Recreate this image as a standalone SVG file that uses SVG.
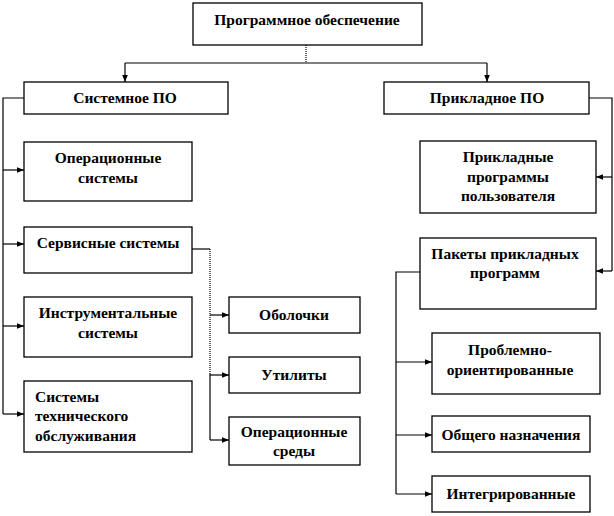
<svg xmlns="http://www.w3.org/2000/svg" width="614" height="516" viewBox="0 0 614 516">
<style>
.box{fill:#fff;stroke:#000;stroke-width:1.3}
.t{font-family:"Liberation Serif","Times New Roman",serif;font-weight:bold;font-size:15.5px;fill:#000;text-anchor:middle}
.tl{text-anchor:start}
.c{fill:none;stroke:#000;stroke-width:1.2}
.d{fill:none;stroke:#000;stroke-width:1.2;stroke-dasharray:1 1}
.a{fill:none;stroke:#000;stroke-width:1.2;marker-end:url(#ah)}
</style>
<defs>
<marker id="ah" viewBox="0 0 8 8" refX="8" refY="4" markerWidth="7" markerHeight="7" markerUnits="userSpaceOnUse" orient="auto">
<path d="M0,0.8 L8,4 L0,7.2 Z" fill="#000"/>
</marker>
</defs>
<rect width="614" height="516" fill="#fff"/>
<g id="connectors">
<path class="d" d="M306,45 V63"/>
<path class="c" d="M125,63 H487"/>
<path class="a" d="M125,63 V82"/>
<path class="a" d="M487,63 V82"/>
<path class="c" d="M24,98 H3 V414"/>
<path class="a" d="M3,170 H24"/>
<path class="a" d="M3,244 H24"/>
<path class="a" d="M3,326 H24"/>
<path class="a" d="M3,414 H24"/>
<path class="c" d="M192,249 H210"/>
<path class="d" d="M210,249 V374"/>
<path class="c" d="M210,374 V440"/>
<path class="a" d="M210,315 H229"/>
<path class="a" d="M210,375 H229"/>
<path class="a" d="M210,440 H229"/>
<path class="c" d="M589,98 H612 V271"/>
<path class="a" d="M612,177 H596"/>
<path class="a" d="M612,271 H596"/>
<path class="c" d="M420,272 H396 V494"/>
<path class="a" d="M396,362 H432"/>
<path class="a" d="M396,435 H432"/>
<path class="a" d="M396,494 H432"/>
</g>
<g id="n-po">
<rect class="box" x="193" y="3" width="229" height="42"/>
<text class="t" x="307" y="25">Программное обеспечение</text>
</g>
<g id="n-sys">
<rect class="box" x="24" y="82" width="204" height="32"/>
<text class="t" x="125" y="103">Системное ПО</text>
</g>
<g id="n-app">
<rect class="box" x="384" y="82" width="205" height="32"/>
<text class="t" x="487" y="103">Прикладное ПО</text>
</g>
<g id="n-os">
<rect class="box" x="24" y="142" width="168" height="59"/>
<text class="t" x="108" y="163">Операционные</text>
<text class="t" x="108" y="183">системы</text>
</g>
<g id="n-serv">
<rect class="box" x="24" y="227" width="168" height="46"/>
<text class="t" x="108" y="248">Сервисные системы</text>
</g>
<g id="n-instr">
<rect class="box" x="24" y="297" width="168" height="60"/>
<text class="t" x="108" y="318">Инструментальные</text>
<text class="t" x="108" y="338">системы</text>
</g>
<g id="n-tech">
<rect class="box" x="24" y="381" width="168" height="71"/>
<text class="t tl" x="35" y="402">Системы</text>
<text class="t tl" x="35" y="421">технического</text>
<text class="t tl" x="35" y="441">обслуживания</text>
</g>
<g id="n-shell">
<rect class="box" x="229" y="297" width="131" height="36"/>
<text class="t" x="294" y="320">Оболочки</text>
</g>
<g id="n-util">
<rect class="box" x="229" y="357" width="131" height="36"/>
<text class="t" x="294" y="380">Утилиты</text>
</g>
<g id="n-env">
<rect class="box" x="229" y="417" width="131" height="48"/>
<text class="t" x="294" y="437">Операционные</text>
<text class="t" x="294" y="456">среды</text>
</g>
<g id="n-user">
<rect class="box" x="420" y="141" width="176" height="72"/>
<text class="t" x="508" y="162">Прикладные</text>
<text class="t" x="508" y="182">программы</text>
<text class="t" x="508" y="201">пользователя</text>
</g>
<g id="n-pack">
<rect class="box" x="420" y="238" width="176" height="71"/>
<text class="t" x="505" y="259">Пакеты прикладных</text>
<text class="t" x="505" y="278">программ</text>
</g>
<g id="n-prob">
<rect class="box" x="432" y="333" width="168" height="61"/>
<text class="t" x="510" y="355">Проблемно-</text>
<text class="t" x="510" y="375">ориентированные</text>
</g>
<g id="n-gen">
<rect class="box" x="432" y="416" width="158" height="36"/>
<text class="t" x="511" y="440">Общего назначения</text>
</g>
<g id="n-int">
<rect class="box" x="432" y="476" width="158" height="36"/>
<text class="t" x="511" y="499">Интегрированные</text>
</g>
</svg>
